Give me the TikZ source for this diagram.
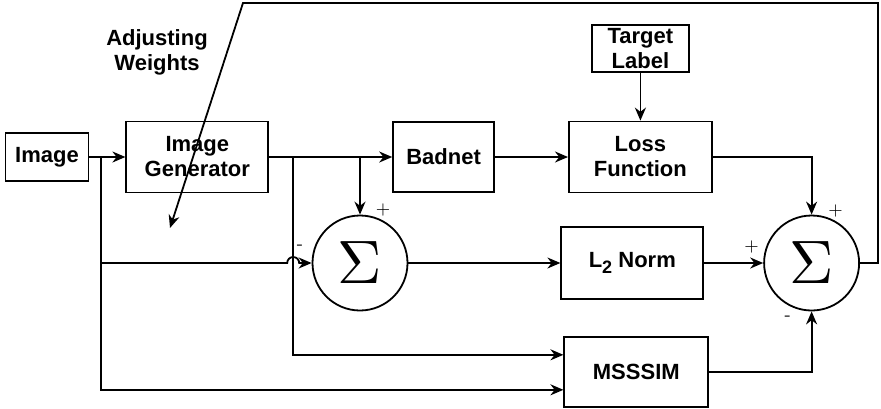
\documentclass[tikz,border=0pt]{standalone}
\usepackage{fontspec}
\setsansfont{Liberation Sans}
\usepackage{graphicx}
\usetikzlibrary{arrows.meta, positioning, calc}

\begin{document}
\begin{tikzpicture}[
    x=0.5pt, y=-0.5pt,
    block/.style={rectangle, draw, line width=0.9pt, align=center, minimum width=71pt, minimum height=35.5pt, inner sep=0pt},
    sumnode/.style={circle, draw, line width=0.9pt, minimum size=47.5pt, inner sep=0pt},
    arrow/.style={-{Stealth[length=6.5pt, width=5.5pt]}, line width=0.9pt},
    sign/.style={font=\normalfont\small, inner sep=0pt},
    font=\sffamily\bfseries\fontsize{11}{12.5}\selectfont
]
\useasboundingbox (0,0) rectangle (881,408);

% Input and generator
\node[block, minimum width=41.5pt, minimum height=24pt] (image) at (47,157) {Image};
\node[block, right=18pt of image] (imggen) {Image\\Generator};

% Classifier and loss
\node[block, minimum width=50.5pt, minimum height=35pt, right=61.5pt of imggen] (badnet) {Badnet};
\node[block, minimum width=71.5pt, right=36.5pt of badnet] (loss) {Loss\\Function};
\node[block, minimum width=48.5pt, minimum height=23.5pt, above=24pt of loss] (target) {Target\\Label};

% Summing junctions and distance terms
\node[sumnode] (sum1) at (360,263) {\scalebox{2.8}{$\Sigma$}};
\node[block, minimum height=36pt, right=76pt of sum1] (l2norm) {L\raisebox{-0.45ex}{\small 2} Norm};
\node[sumnode, right=29.5pt of l2norm] (sum2) {\scalebox{2.8}{$\Sigma$}};
\node[block, minimum width=72pt, minimum height=35pt, below=18pt of l2norm, xshift=2pt] (msssim) {MSSSIM};

% Signs at the junction inputs
\node[sign] (sum1minus) at ($(sum1)+(-60,-16)$) {-};
\node[sign] (sum1plus) at ($(sum1)+(23,-53)$) {+};
\node[sign] (sum2plusl) at ($(sum2)+(-60,-16)$) {+};
\node[sign] (sum2plust) at ($(sum2)+(24,-52)$) {+};
\node[sign] (sum2minus) at ($(sum2)+(-24,55)$) {-};

% Feedback label
\node[align=center] (adjust) at (157,52) {Adjusting\\Weights};

% Branch points and feedback route
\coordinate (split1) at ($(image.east)!0.33!(imggen.west)$);
\coordinate (split2) at ($(imggen.east)+(12pt,0)$);
\coordinate (msin1) at ($(msssim.west)+(0,-17)$);
\coordinate (msin2) at ($(msssim.west)+(0,18)$);
\coordinate (fbturn) at (878,3);
\coordinate (fbstart) at (243,3);
\coordinate (fbend) at (170,228);

% Forward path
\draw[arrow] (image) -- (imggen);
\draw[arrow] (imggen) -- (badnet);
\draw[arrow] (badnet) -- (loss);
\draw[arrow] (target) -- (loss);
\draw[arrow] (sum1.north |- imggen.east) -- (sum1);

% Original image into the junction (hops over the generator branch)
\draw[arrow] (split1 |- sum1) -- ($(split2 |- sum1)+(-3pt,0)$) arc[start angle=180, end angle=0, radius=3pt] -- (sum1);
\draw[arrow] (split1) |- (msin2);
\draw[arrow] (split2) |- (msin1);

% Into the output junction
\draw[arrow] (sum1) -- (l2norm);
\draw[arrow] (l2norm) -- (sum2);
\draw[arrow] (loss) -| (sum2);
\draw[arrow] (msssim) -| (sum2);

% Weight update
\draw[arrow] (sum2) -| (fbturn) -- (fbstart) -- (fbend);

\end{tikzpicture}
\end{document}
